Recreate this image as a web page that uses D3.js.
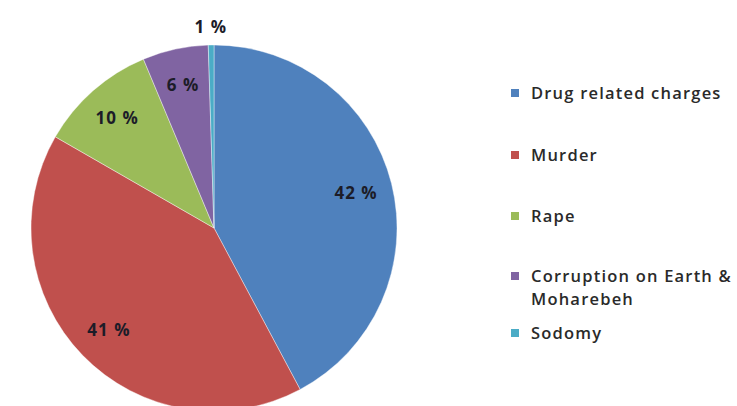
<!DOCTYPE html>
<html><head><meta charset="utf-8">
<script src="https://cdn.jsdelivr.net/npm/d3@7"></script>
<style>body{margin:0;background:#fff}svg{display:block}</style>
</head><body>
<svg id="c" width="737" height="406"></svg>
<script>
const categories = ["Drug related charges", "Murder", "Rape", "Corruption on Earth & Moharebeh", "Sodomy"];
const legendLines = [["Drug related charges"], ["Murder"], ["Rape"], ["Corruption on Earth &", "Moharebeh"], ["Sodomy"]];
const values = [42.2, 41.1, 10.4, 5.8, 0.5];
const percentLabels = ["42 %", "41 %", "10 %", "6 %", "1 %"];
const colors = ["#4F81BD", "#C0504D", "#9BBB59", "#8064A2", "#4BACC6"];

const svg = d3.select("#c");
const cx = 214, cy = 228, r = 183;
const color = d3.scaleOrdinal().domain(categories).range(colors);
const pie = d3.pie().sort(null).value(d => d.v);
const data = pie(categories.map((c, i) => ({c, v: values[i], lbl: percentLabels[i]})));
const arc = d3.arc().innerRadius(0).outerRadius(r);
const g = svg.append("g").attr("transform", `translate(${cx},${cy})`);
g.selectAll("path").data(data).join("path")
  .attr("d", arc).attr("fill", d => color(d.data.c))
  .attr("stroke", "#fff").attr("stroke-width", 0.4);

const lblArc = d3.arc().innerRadius(r * 0.8).outerRadius(r * 0.8);
const outArc = d3.arc().innerRadius(r + 18).outerRadius(r + 18);
g.selectAll("text.l").data(data).join("text")
  .attr("class", "l")
  .attr("transform", d => `translate(${(d.data.v < 3 ? outArc : lblArc).centroid(d)})`)
  .attr("text-anchor", "middle").attr("dy", "0.36em")
  .attr("font-family", "'Open Sans', sans-serif").attr("font-weight", "bold")
  .attr("font-size", 17).attr("letter-spacing", 1).attr("fill", "#1c1c28")
  .text(d => d.data.lbl);

const leg = svg.append("g").attr("transform", "translate(511,0)");
const rowY = [93, 155, 216, 276, 333];
const lg = leg.selectAll("g").data(categories).join("g")
  .attr("transform", (d, i) => `translate(0,${rowY[i]})`);
lg.append("rect").attr("x", 0).attr("y", -4).attr("width", 8).attr("height", 8)
  .attr("fill", d => color(d));
lg.append("text").attr("x", 20)
  .attr("font-family", "'Open Sans', sans-serif").attr("font-weight", 600)
  .attr("font-size", 16.5).attr("letter-spacing", 1.2).attr("fill", "#2a2a2a")
  .selectAll("tspan").data((d, i) => legendLines[i]).join("tspan")
  .attr("x", 20).attr("dy", (d, j) => j === 0 ? 6 : 22.5).text(d => d);
</script>
</body></html>
